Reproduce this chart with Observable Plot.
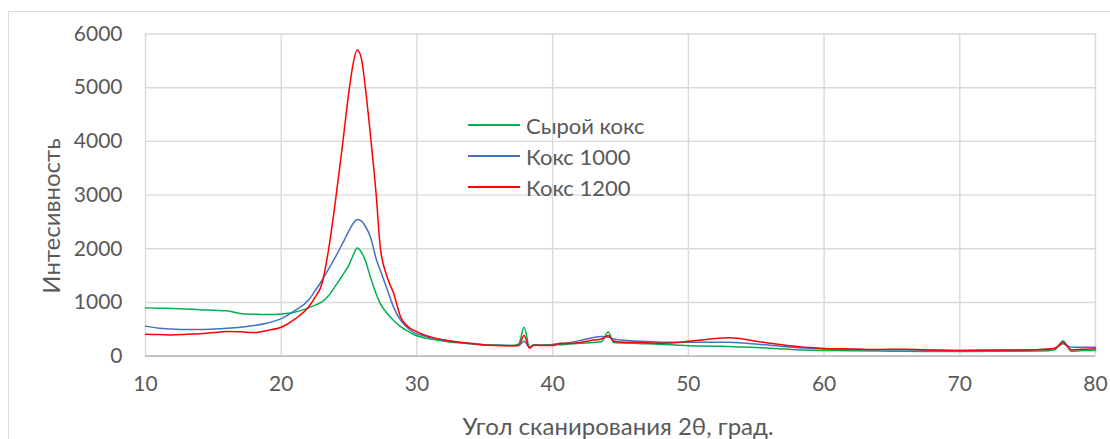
<!DOCTYPE html>
<html><head><meta charset="utf-8">
<script src="https://cdn.jsdelivr.net/npm/d3@7"></script>
<script src="https://cdn.jsdelivr.net/npm/@observablehq/plot@0.6"></script>
<style>
body{margin:0;background:#fff;font-family:Lato,sans-serif;}
#wrap{position:relative;width:1110px;height:439px;overflow:hidden;background:#fff;}
#frame{position:absolute;left:8px;top:11px;width:1200px;height:500px;border:1.5px solid #d9d9d9;box-sizing:border-box;}
#chart{position:absolute;left:0;top:0;}
.title{position:absolute;color:#595959;font-size:24px;white-space:nowrap;}
#xtitle{left:0;width:1236px;text-align:center;top:411px;}
#ytitle{left:50px;top:216px;transform:translate(-50%,-50%) rotate(-90deg);}
.leg{position:absolute;left:468px;height:22px;display:flex;align-items:center;color:#595959;font-size:22px;white-space:nowrap;}
.leg span.sw{display:inline-block;width:52px;height:1.6px;margin-right:6px;}
</style></head><body>
<div id="wrap"><div id="frame"></div><div id="chart"></div>
<div id="xtitle" class="title"></div><div id="ytitle" class="title"></div>
<div id="legend"></div></div>
<script>
const angles = [10,11,12,13,14,15,16,17,18,19,20,21,22,22.5,23,23.5,24,24.5,25,25.3,25.6,25.9,26.2,26.6,27,27.3,27.8,28.3,28.8,29.3,29.8,30.5,31,32,33,34,35,36,37,37.5,37.9,38.3,38.6,39,40,40.6,41,42,43,43.6,44.1,44.5,45,46,47,48,49,50,51,52,53,54,55,56,57,58,59,60,62,64,66,68,70,72,74,76,77,77.3,77.6,77.9,78.2,79,80];
const rawCoke = [900,895,890,880,865,855,845,795,780,775,785,820,900,950,1010,1130,1310,1500,1700,1880,2015,1940,1780,1450,1160,980,800,660,550,470,400,345,320,280,250,230,210,205,200,230,540,170,210,205,215,215,220,240,255,270,450,255,245,240,230,220,210,195,190,185,180,170,160,150,135,120,112,108,100,95,92,88,87,90,92,95,120,200,290,200,90,105,108];
const coke1000 = [560,520,505,495,495,505,520,540,570,620,700,850,1040,1220,1410,1630,1850,2090,2340,2470,2545,2520,2420,2200,1810,1600,1250,900,670,530,440,380,345,300,260,236,215,205,200,205,280,165,210,210,220,235,245,290,350,365,355,320,300,285,275,262,258,260,262,262,260,245,225,205,180,160,145,132,125,120,118,112,106,110,115,125,150,190,230,200,168,168,168];
const coke1200 = [410,405,395,410,420,440,460,455,440,480,540,690,910,1100,1350,2000,2900,3900,4950,5450,5700,5550,5000,4050,3000,2030,1480,1160,730,560,480,400,360,300,265,235,210,200,195,200,385,150,205,200,200,242,235,255,300,320,385,280,265,258,250,242,250,278,300,330,342,320,280,240,210,182,160,145,135,125,130,115,108,112,115,125,145,200,260,190,118,130,140];
const seriesNames = ["Сырой кокс","Кокс 1000","Кокс 1200"];
const seriesColors = ["#00B050","#4472C4","#FF0000"];
const xTicks = [10,20,30,40,50,60,70,80];
const yTicks = [0,1000,2000,3000,4000,5000,6000];
const xTitle = "Угол сканирования 2θ, град.";
const yTitle = "Интесивность";

const seriesValues = [rawCoke, coke1000, coke1200];
const rows = [];
seriesValues.forEach((vals, i) => vals.forEach((v, j) => rows.push({x: angles[j], y: v, s: seriesNames[i]})));

const chart = Plot.plot({
  width: 1110, height: 439,
  marginLeft: 145, marginRight: 15, marginTop: 33.5, marginBottom: 83.3,
  style: {background: "transparent", fontFamily: "Lato, sans-serif", fontSize: "21px", color: "#595959"},
  x: {domain: [10, 80]},
  y: {domain: [0, 6000]},
  color: {domain: seriesNames, range: seriesColors},
  marks: [
    Plot.gridX(xTicks, {stroke: "#d9d9d9", strokeOpacity: 1, strokeWidth: 1.4}),
    Plot.gridY(yTicks, {stroke: "#d9d9d9", strokeOpacity: 1, strokeWidth: 1.4}),
    Plot.ruleY([0], {stroke: "#bfbfbf", strokeWidth: 1.8}),
    Plot.line(rows, {x: "x", y: "y", z: "s", stroke: "s", strokeWidth: 1.5, curve: "monotone-x"}),
    Plot.axisX(xTicks, {tickSize: 0, tickPadding: 20, label: null, fill: "#595959", fontSize: 21, tickFormat: d => String(d)}),
    Plot.axisY(yTicks, {tickSize: 0, tickPadding: 23, label: null, fill: "#595959", fontSize: 21, tickFormat: d => String(d)})
  ]
});
document.getElementById("chart").appendChild(chart);
document.getElementById("xtitle").textContent = xTitle;
document.getElementById("ytitle").textContent = yTitle;
const legend = document.getElementById("legend");
const legTops = [114, 145, 176];
seriesNames.forEach((n, i) => {
  const d = document.createElement("div");
  d.className = "leg";
  d.style.top = legTops[i] + "px";
  d.innerHTML = `<span class="sw" style="background:${seriesColors[i]}"></span>${n}`;
  legend.appendChild(d);
});
</script>
</body></html>
